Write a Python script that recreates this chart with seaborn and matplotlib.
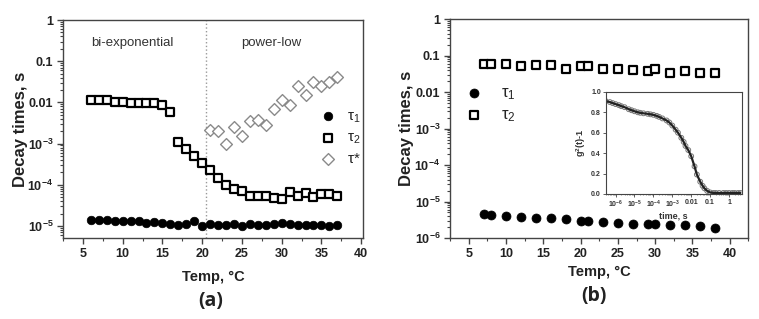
import matplotlib
matplotlib.use("Agg")
import matplotlib.pyplot as plt
import matplotlib.ticker as mticker
import numpy as np
import pandas as pd
import seaborn as sns

# ---- panel (a) data ----
temp_a = [6, 7, 8, 9, 10, 11, 12, 13, 14, 15, 16, 17, 18, 19, 20, 21,
          22, 23, 24, 25, 26, 27, 28, 29, 30, 31, 32, 33, 34, 35, 36, 37]
tau1_a = [1.42e-5, 1.40e-5, 1.37e-5, 1.34e-5, 1.32e-5, 1.30e-5, 1.32e-5, 1.20e-5,
          1.25e-5, 1.20e-5, 1.12e-5, 1.06e-5, 1.14e-5, 1.30e-5, 0.98e-5, 1.10e-5,
          1.04e-5, 1.06e-5, 1.10e-5, 1.02e-5, 1.12e-5, 1.07e-5, 1.04e-5, 1.12e-5,
          1.20e-5, 1.10e-5, 1.07e-5, 1.06e-5, 1.06e-5, 1.04e-5, 1.02e-5, 1.04e-5]
tau2_a = [1.16e-2, 1.12e-2, 1.12e-2, 1.04e-2, 1.0e-2, 0.98e-2, 0.98e-2, 0.98e-2,
          0.95e-2, 0.88e-2, 0.60e-2, 1.08e-3, 0.74e-3, 5.0e-4, 3.4e-4, 2.3e-4,
          1.43e-4, 1.0e-4, 8.1e-5, 7.0e-5, 5.3e-5, 5.3e-5, 5.2e-5, 4.7e-5,
          4.4e-5, 6.7e-5, 5.4e-5, 6.4e-5, 5.1e-5, 6.0e-5, 6.0e-5, 5.3e-5]
temp_star = [21, 22, 23, 24, 25, 26, 27, 28, 29, 30, 31, 32, 33, 34, 35, 36, 37]
tau_star = [2.1e-3, 2.0e-3, 1.0e-3, 2.6e-3, 1.5e-3, 3.6e-3, 3.7e-3, 2.9e-3, 6.8e-3,
            1.12e-2, 0.88e-2, 2.5e-2, 1.54e-2, 3.2e-2, 2.55e-2, 3.07e-2, 4.06e-2]

# ---- panel (b) data ----
temp_b = [7, 8, 10, 12, 14, 16, 18, 20, 21, 23, 25, 27, 29, 30, 32, 34, 36, 38]
tau1_b = [4.5e-6, 4.38e-6, 4.04e-6, 3.86e-6, 3.62e-6, 3.49e-6, 3.27e-6, 3.0e-6, 2.94e-6,
          2.81e-6, 2.64e-6, 2.43e-6, 2.38e-6, 2.38e-6, 2.24e-6, 2.24e-6, 2.14e-6, 1.92e-6]
tau2_b = [0.060, 0.060, 0.060, 0.053, 0.056, 0.056, 0.044, 0.053, 0.053,
          0.044, 0.044, 0.041, 0.039, 0.043, 0.034, 0.039, 0.034, 0.034]

# ---- inset: correlation function ----
lag_time = [3e-7, 5e-7, 7e-7, 1e-6, 1.5e-6, 2e-6, 3e-6, 5e-6, 7e-6, 1e-5, 1.5e-5, 2e-5,
            3e-5, 5e-5, 7e-5, 1e-4, 1.5e-4, 2e-4, 3e-4, 5e-4, 7e-4, 1e-3, 1.5e-3, 2e-3,
            3e-3, 4e-3, 5e-3, 7e-3, 1e-2, 1.5e-2, 2e-2, 3e-2, 4e-2, 5e-2, 7e-2, 0.1,
            0.15, 0.2, 0.3, 0.5, 0.7, 1.0, 1.5, 2.0, 3.0, 4.0]
g2 = [0.91, 0.90, 0.89, 0.88, 0.87, 0.86, 0.85, 0.83, 0.82, 0.81, 0.80, 0.795,
      0.79, 0.785, 0.78, 0.775, 0.765, 0.755, 0.74, 0.72, 0.70, 0.67, 0.63, 0.60,
      0.55, 0.51, 0.47, 0.43, 0.37, 0.27, 0.19, 0.12, 0.08, 0.055, 0.03, 0.015,
      0.01, 0.01, 0.01, 0.01, 0.01, 0.01, 0.01, 0.01, 0.01, 0.01]

sns.set_style("ticks")
plt.rcParams['font.family'] = ['Liberation Sans', 'DejaVu Sans']
plt.rcParams['mathtext.fontset'] = 'custom'
plt.rcParams['mathtext.rm'] = 'Liberation Sans'
plt.rcParams['mathtext.it'] = 'Liberation Sans'
plt.rcParams['mathtext.bf'] = 'Liberation Sans:bold'
plt.rcParams['mathtext.default'] = 'regular'

AX_COLOR = "#444444"


def decay_fmt(v, pos):
    e = int(round(np.log10(v)))
    named = {0: "1", -1: "0.1", -2: "0.01"}
    if e in named:
        return named[e]
    return "10$^{%d}$" % e


def style_axes(ax, ylim):
    ax.set_yscale("log")
    ax.set_ylim(*ylim)
    ax.yaxis.set_major_locator(mticker.LogLocator(base=10, numticks=10))
    ax.yaxis.set_minor_locator(mticker.LogLocator(base=10, subs=np.arange(2, 10), numticks=10))
    ax.yaxis.set_major_formatter(mticker.FuncFormatter(decay_fmt))
    ax.yaxis.set_minor_formatter(mticker.NullFormatter())
    ax.xaxis.set_major_locator(mticker.MultipleLocator(5))
    ax.xaxis.set_minor_locator(mticker.MultipleLocator(2.5))
    for sp in ax.spines.values():
        sp.set_visible(True)
        sp.set_color(AX_COLOR)
        sp.set_linewidth(1.0)
    ax.tick_params(which="major", direction="out", length=4, width=1, color=AX_COLOR,
                   labelsize=9, pad=3, labelcolor="#222222")
    ax.tick_params(which="minor", direction="out", length=2, width=0.8, color=AX_COLOR)
    for lab in ax.get_xticklabels() + ax.get_yticklabels():
        lab.set_fontweight("bold")
    ax.set_xlabel("Temp, \u00b0C", fontsize=10.5, fontweight="bold", color="#222222")
    ax.set_ylabel("Decay times, s", fontsize=12, fontweight="bold", color="#222222")


fig = plt.figure(figsize=(7.59, 3.19), dpi=100)
ax_a = fig.add_axes([0.083, 0.254, 0.395, 0.683])
ax_b = fig.add_axes([0.593, 0.254, 0.393, 0.686])

# ---- (a) ----
df_a = pd.DataFrame({"temp": temp_a, "tau1": tau1_a, "tau2": tau2_a})
df_star = pd.DataFrame({"temp": temp_star, "tau": tau_star})
ax_a.axvline(20.5, color="#999999", linestyle=":", linewidth=1.0, zorder=0)
sns.scatterplot(data=df_a, x="temp", y="tau1", ax=ax_a, marker="o", s=38,
                color="black", edgecolor="black", linewidth=0.5, label=r"$\tau_1$")
sns.scatterplot(data=df_a, x="temp", y="tau2", ax=ax_a, marker="s", s=40,
                facecolor="white", edgecolor="black", linewidth=1.6, label=r"$\tau_2$")
sns.scatterplot(data=df_star, x="temp", y="tau", ax=ax_a, marker="D", s=36,
                facecolor="white", edgecolor="#8a8a8a", linewidth=1.0, label=r"$\tau$*")
ax_a.set_xlim(2.5, 40.2)
style_axes(ax_a, (5.1e-6, 1.0))
ax_a.text(11.2, 10 ** -0.56, "bi-exponential", ha="center", va="center", fontsize=9.5, color="#333333")
ax_a.text(28.7, 10 ** -0.56, "power-low", ha="center", va="center", fontsize=9.5, color="#333333")
ax_a.legend(loc="center right", bbox_to_anchor=(1.03, 0.46), frameon=False,
            fontsize=11, handletextpad=0.3, labelspacing=0.4, borderaxespad=0.3)
ax_a.xaxis.set_label_coords(0.5, -0.145)
ax_a.yaxis.set_label_coords(-0.118, 0.5)

# ---- (b) ----
df_b = pd.DataFrame({"temp": temp_b, "tau1": tau1_b, "tau2": tau2_b})
sns.scatterplot(data=df_b, x="temp", y="tau1", ax=ax_b, marker="o", s=42,
                color="black", edgecolor="black", linewidth=0.5, label=r"$\tau_1$")
sns.scatterplot(data=df_b, x="temp", y="tau2", ax=ax_b, marker="s", s=40,
                facecolor="white", edgecolor="black", linewidth=1.6, label=r"$\tau_2$")
ax_b.set_xlim(2.5, 42.5)
style_axes(ax_b, (1e-6, 1.0))
ax_b.legend(loc="upper left", bbox_to_anchor=(-0.015, 0.75), frameon=False,
            fontsize=12, handletextpad=0.6, labelspacing=0.3, borderaxespad=0.3)
ax_b.xaxis.set_label_coords(0.5, -0.125)
ax_b.yaxis.set_label_coords(-0.12, 0.5)

# ---- inset ----
ax_in = fig.add_axes([0.798, 0.392, 0.179, 0.320])
df_in = pd.DataFrame({"t": lag_time, "g2": g2})
sns.scatterplot(data=df_in, x="t", y="g2", ax=ax_in, marker="o", s=12,
                facecolor="none", edgecolor="#777777", linewidth=0.7, legend=False)
sns.lineplot(data=df_in, x="t", y="g2", ax=ax_in, color="#222222", linewidth=1.6, legend=False)
ax_in.set_xscale("log")
ax_in.set_xlim(3e-7, 4.6)
ax_in.set_ylim(0.0, 1.0)
ax_in.xaxis.set_major_locator(mticker.LogLocator(base=10, numticks=12))
ax_in.xaxis.set_minor_locator(mticker.LogLocator(base=10, subs=np.arange(2, 10), numticks=12))
ax_in.xaxis.set_major_formatter(mticker.FuncFormatter(decay_fmt))
ax_in.xaxis.set_minor_formatter(mticker.NullFormatter())
ax_in.yaxis.set_major_locator(mticker.MultipleLocator(0.2))
ax_in.yaxis.set_major_formatter(mticker.FormatStrFormatter("%.1f"))
for sp in ax_in.spines.values():
    sp.set_visible(True)
    sp.set_color(AX_COLOR)
    sp.set_linewidth(0.8)
ax_in.tick_params(which="major", direction="out", length=2, width=0.6, color=AX_COLOR,
                  labelsize=5, pad=1.5, labelcolor="#333333")
ax_in.tick_params(which="minor", direction="out", length=1, width=0.4, color=AX_COLOR)
for lab in ax_in.get_xticklabels() + ax_in.get_yticklabels():
    lab.set_fontweight("bold")
ax_in.set_xlabel("time, s", fontsize=6.5, fontweight="bold", labelpad=1, color="#333333")
ax_in.set_ylabel("g$^2$(t)-1", fontsize=6.5, fontweight="bold", labelpad=2, color="#333333")

# panel letters
fig.text(0.277, 1 - 301 / 319, "(a)", ha="center", va="center", fontsize=14,
         fontweight="bold", family=["Open Sans", "DejaVu Sans"], color="#222222")
fig.text(0.783, 1 - 296 / 319, "(b)", ha="center", va="center", fontsize=14,
         fontweight="bold", family=["Open Sans", "DejaVu Sans"], color="#222222")

fig.savefig("out.png", dpi=100)
